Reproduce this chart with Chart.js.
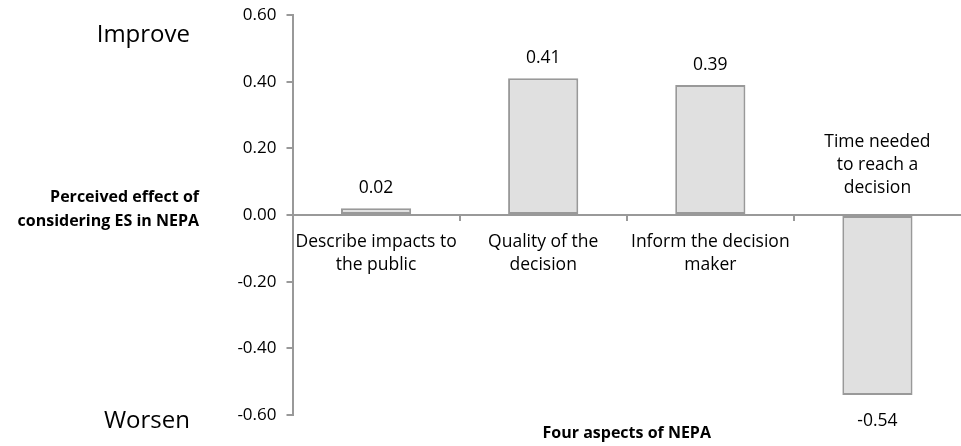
<!DOCTYPE html>
<html>
<head>
<meta charset="utf-8">
<script src="https://cdn.jsdelivr.net/npm/chart.js@4"></script>
<style>
  html, body { margin: 0; padding: 0; background: #fff; }
  #wrap { width: 961px; height: 446px; position: relative; }
</style>
</head>
<body>
<div id="wrap"><canvas id="myChart"></canvas></div>
<script>
const categories = [
    ['Describe impacts to', 'the public'],
    ['Quality of the', 'decision'],
    ['Inform the decision', 'maker'],
    ['Time needed', 'to reach a', 'decision']
];
const effects = [0.02, 0.41, 0.39, -0.54];
const yTicks = [-0.60, -0.40, -0.20, 0.00, 0.20, 0.40, 0.60];

const FONT = '"Open Sans", "DejaVu Sans", sans-serif';
const AXIS_GREY = '#999999';

// labels, value tags and side captions
const annotate = {
    id: 'annotate',
    afterDatasetsDraw(chart) {
        const c = chart.ctx;
        const y = chart.scales.y;
        const x = chart.scales.x;
        const area = chart.chartArea;
        const zero = y.getPixelForValue(0);
        const meta = chart.getDatasetMeta(0);

        // small ticks under the zero line between categories
        c.save();
        c.strokeStyle = AXIS_GREY;
        c.lineWidth = 2;
        const step = (area.right - area.left) / categories.length;
        for (let i = 1; i < categories.length; i++) {
            const px = Math.round(area.left + step * i);
            c.beginPath();
            c.moveTo(px, zero);
            c.lineTo(px, zero + 6);
            c.stroke();
        }
        c.restore();

        c.save();
        c.fillStyle = '#000';
        c.textAlign = 'center';
        c.textBaseline = 'middle';
        meta.data.forEach((bar, i) => {
            const v = effects[i];
            const cx = x.getPixelForValue(i);
            const lines = categories[i];
            c.font = '17.5px ' + FONT;
            if (v >= 0) {
                c.fillText(v.toFixed(2), bar.x, bar.y - 20);
                lines.forEach((t, k) => c.fillText(t, cx, zero + 27 + k * 23));
            } else {
                c.fillText(v.toFixed(2), bar.x, bar.y + 26);
                lines.forEach((t, k) => c.fillText(t, cx, zero - 27 - (lines.length - 1 - k) * 23));
            }
        });

        c.font = '24px ' + FONT;
        c.textAlign = 'right';
        c.fillText('Improve', 190, 35);
        c.fillText('Worsen', 190, 421);

        c.font = 'bold 16px ' + FONT;
        c.fillText('Perceived effect of', 199, 197);
        c.fillText('considering ES in NEPA', 199, 221);

        c.textAlign = 'center';
        c.fillText('Four aspects of NEPA', (area.left + 961) / 2, 433);
        c.restore();
    }
};

const ctx = document.getElementById('myChart');

new Chart(ctx, {
    type: 'bar',
    data: {
        labels: categories.map(l => l.join(' ')),
        datasets: [{
            data: effects,
            backgroundColor: '#e0e0e0',
            borderColor: AXIS_GREY,
            borderWidth: 2,
            borderSkipped: false,
            barPercentage: 0.42,
            categoryPercentage: 1
        }]
    },
    options: {
        responsive: true,
        maintainAspectRatio: false,
        animation: false,
        layout: {
            padding: { top: 15, bottom: 31, left: 0, right: -5 }
        },
        plugins: {
            legend: { display: false },
            tooltip: { enabled: false }
        },
        scales: {
            x: {
                display: false
            },
            y: {
                min: -0.6,
                max: 0.6,
                afterFit: s => {
                    s.width = 292.5;
                    s.paddingTop = 0;
                    s.paddingBottom = 0;
                },
                afterBuildTicks: s => { s.ticks = yTicks.map(v => ({ value: v })); },
                ticks: {
                    padding: 10,
                    color: '#000',
                    font: { family: FONT, size: 17 },
                    callback: v => Number(v).toFixed(2)
                },
                grid: {
                    color: c => (c.tick && c.tick.value === 0) ? AXIS_GREY : 'rgba(0,0,0,0)',
                    tickColor: AXIS_GREY,
                    lineWidth: 2,
                    tickLength: 6
                },
                border: { color: AXIS_GREY, width: 2 }
            }
        }
    },
    plugins: [annotate]
});
</script>
</body>
</html>
